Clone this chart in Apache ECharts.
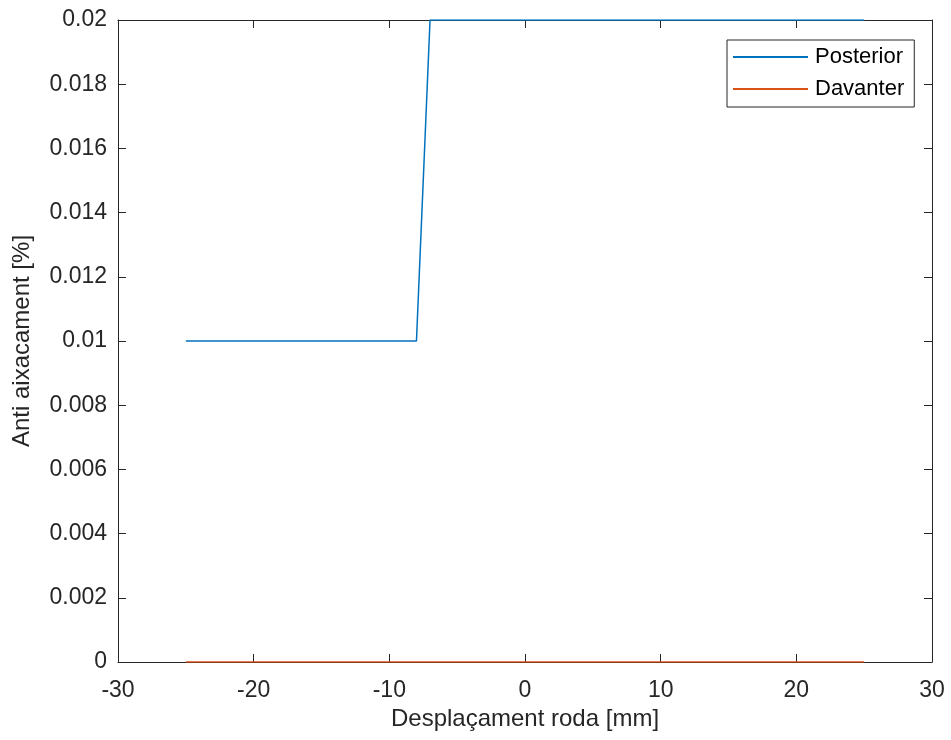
<!DOCTYPE html>
<html><head><meta charset="utf-8">
<script src="https://cdn.jsdelivr.net/npm/echarts@6/dist/echarts.min.js"></script>
<style>html,body{margin:0;padding:0;background:#fff}#c{width:951px;height:740px}</style>
</head><body><div id="c"></div>
<script>
const posteriorX = [-25, -8, -7, 25];
const posteriorY = [0.01, 0.01, 0.02, 0.02];
const davanterX = [-25, 25];
const davanterY = [0, 0];
const seriesNames = ['Posterior', 'Davanter'];
const xLabel = 'Desplaçament roda [mm]';
const yLabel = 'Anti aixacament [%]';

const font = 'Liberation Sans, Arial, Helvetica, sans-serif';
const axCol = '#262626';
const chart = echarts.init(document.getElementById('c'));
const common = {
  axisLine: {show: true, onZero: false, lineStyle: {color: axCol, width: 1}},
  axisTick: {show: true, inside: true, length: 8, lineStyle: {color: axCol}},
  splitLine: {show: false}
};
chart.setOption({
  animation: false,
  grid: {left: 118, top: 20, right: 19, bottom: 78, containLabel: false},
  legend: {
    data: seriesNames, orient: 'vertical', left: 727, top: 40,
    padding: [6, 10, 7, 6], itemGap: 10,
    borderColor: '#262626', borderWidth: 1, backgroundColor: '#fff',
    itemWidth: 75, itemHeight: 2, icon: 'rect',
    textStyle: {fontFamily: font, fontSize: 22, lineHeight: 22, color: '#000', padding: [0, 0, 0, 2]}
  },
  xAxis: [
    Object.assign({type: 'value', min: -30, max: 30, interval: 10, position: 'bottom',
      name: xLabel, nameLocation: 'middle', nameGap: 45,
      nameTextStyle: {fontFamily: font, fontSize: 24, color: axCol},
      axisLabel: {fontFamily: font, fontSize: 23, color: axCol, margin: 17}}, common),
    Object.assign({type: 'value', min: -30, max: 30, interval: 10, position: 'top',
      axisLabel: {show: false}}, common)
  ],
  yAxis: [
    Object.assign({type: 'value', min: 0, max: 0.02, interval: 0.002, position: 'left',
      name: yLabel, nameLocation: 'middle', nameGap: 84, nameRotate: 90,
      nameTextStyle: {fontFamily: font, fontSize: 24, color: axCol},
      axisLabel: {fontFamily: font, fontSize: 23, color: axCol, margin: 11,
        formatter: v => String(parseFloat(v.toFixed(4)))}}, common),
    Object.assign({type: 'value', min: 0, max: 0.02, interval: 0.002, position: 'right',
      axisLabel: {show: false}}, common)
  ],
  series: [
    {name: seriesNames[0], type: 'line', showSymbol: false, symbol: 'none',
     data: posteriorX.map((x, i) => [x, posteriorY[i]]),
     lineStyle: {color: '#0072BD', width: 1.5}, itemStyle: {color: '#0072BD'}, z: 3},
    {name: seriesNames[1], type: 'line', showSymbol: false, symbol: 'none',
     data: davanterX.map((x, i) => [x, davanterY[i]]),
     lineStyle: {color: '#D95319', width: 1.5}, itemStyle: {color: '#D95319'}, z: 4}
  ]
});
</script></body></html>
